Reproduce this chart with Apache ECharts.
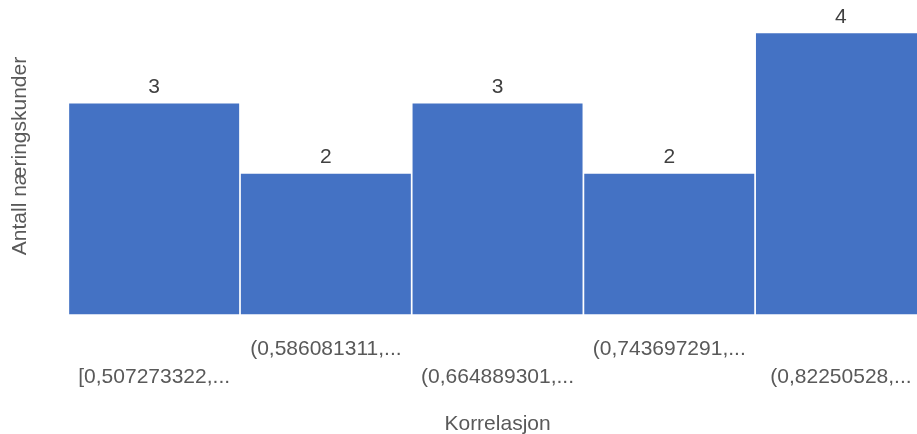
<!DOCTYPE html>
<html>
<head>
<meta charset="utf-8">
<script src="https://cdn.jsdelivr.net/npm/echarts@6/dist/echarts.min.js"></script>
<style>html,body{margin:0;padding:0;background:#fff;}#c{width:917px;height:434px;}</style>
</head>
<body>
<div id="c"></div>
<script>
const categories = ['[0,507273322,...', '(0,586081311,...', '(0,664889301,...', '(0,743697291,...', '(0,82250528,...'];
const counts = [3, 2, 3, 2, 4];
const xTitle = 'Korrelasjon';
const yTitle = 'Antall næringskunder';

const FONT = '"Liberation Sans", Arial, sans-serif';
const chart = echarts.init(document.getElementById('c'));
chart.setOption({
  animation: false,
  backgroundColor: '#ffffff',
  grid: { left: 68.3, right: -9.8, top: 33.3, bottom: 119.7, containLabel: false, outerBoundsMode: 'none' },
  xAxis: {
    type: 'category',
    data: categories,
    axisLine: { show: false },
    axisTick: { show: false },
    axisLabel: {
      interval: 0,
      margin: 21,
      color: '#595959',
      fontFamily: FONT,
      fontSize: 21,
      lineHeight: 28,
      formatter: function (v, i) { return i % 2 === 0 ? '\n' + v : v; }
    },
    name: xTitle,
    nameLocation: 'middle',
    nameGap: 99,
    nameTextStyle: { color: '#595959', fontFamily: FONT, fontSize: 21 }
  },
  yAxis: {
    type: 'value',
    min: 0,
    max: 4,
    show: true,
    axisLine: { show: false },
    axisTick: { show: false },
    axisLabel: { show: false },
    splitLine: { show: false }
  },
  graphic: [{
    type: 'text',
    x: 20,
    y: 156,
    rotation: Math.PI / 2,
    style: {
      text: yTitle,
      fill: '#595959',
      font: '21px ' + FONT,
      align: 'center',
      verticalAlign: 'middle'
    }
  }],
  series: [{
    type: 'bar',
    data: counts,
    barCategoryGap: '1%',
    itemStyle: { color: '#4472C4' },
    label: {
      show: true,
      position: 'top',
      distance: 6,
      color: '#404040',
      fontFamily: FONT,
      fontSize: 21
    }
  }]
});
</script>
</body>
</html>
